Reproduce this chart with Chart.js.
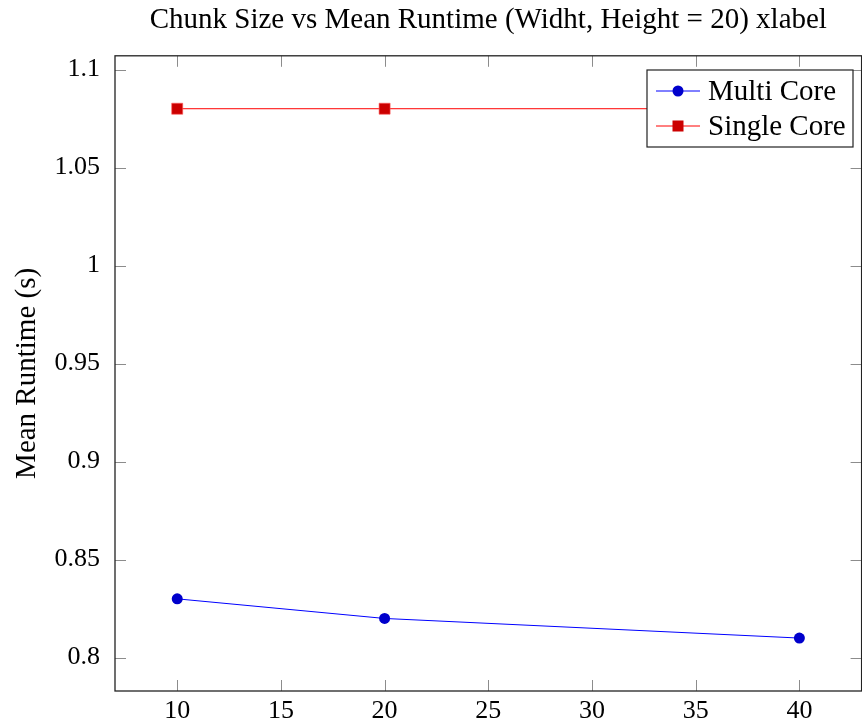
<!DOCTYPE html>
<html>
<head>
<meta charset="utf-8">
<script src="https://cdn.jsdelivr.net/npm/chart.js@4/dist/chart.umd.min.js"></script>
<style>
  body { margin: 0; background: #fff; }
  #wrap { width: 862px; height: 723px; overflow: hidden; }
</style>
</head>
<body>
<div id="wrap"><canvas id="chart" width="870" height="723"></canvas></div>
<script>
// data
var chunkSizes   = [10, 20, 40];
var multiCore    = [0.83, 0.82, 0.81];
var singleCore   = [1.08, 1.08, 1.08];
var xTickValues  = [10, 15, 20, 25, 30, 35, 40];
var yTickValues  = [0.8, 0.85, 0.9, 0.95, 1, 1.05, 1.1];

var FONT = "'Liberation Serif', 'Times New Roman', serif";

function points(xs, ys) {
  return xs.map(function (x, i) { return { x: x, y: ys[i] }; });
}

// pgfplots-like box with inward ticks on all four sides, and a boxed legend
var pgfFrame = {
  id: 'pgfFrame',
  afterDraw: function (chart) {
    var ctx = chart.ctx;
    var a = chart.chartArea;
    var xs = chart.scales.x, ys = chart.scales.y;
    var len = 11;
    ctx.save();
    ctx.strokeStyle = 'rgba(0,0,0,0.45)';
    ctx.lineWidth = 1;
    ctx.beginPath();
    xTickValues.forEach(function (v) {
      var px = Math.round(xs.getPixelForValue(v)) + 0.5;
      ctx.moveTo(px, a.bottom); ctx.lineTo(px, a.bottom - len);
      ctx.moveTo(px, a.top); ctx.lineTo(px, a.top + len);
    });
    yTickValues.forEach(function (v) {
      var py = Math.round(ys.getPixelForValue(v)) + 0.5;
      ctx.moveTo(a.left, py); ctx.lineTo(a.left + len, py);
      ctx.moveTo(a.right, py); ctx.lineTo(a.right - len, py);
    });
    ctx.stroke();

    ctx.strokeStyle = '#222';
    ctx.lineWidth = 1.3;
    ctx.strokeRect(a.left, a.top, a.right - a.left, a.bottom - a.top);

    // legend
    var bx = 647, by = 70, bw = 206, bh = 77;
    ctx.fillStyle = '#fff';
    ctx.fillRect(bx, by, bw, bh);
    ctx.strokeStyle = '#222';
    ctx.lineWidth = 1.2;
    ctx.strokeRect(bx, by, bw, bh);
    var rows = [91, 126];
    chart.data.datasets.forEach(function (ds, i) {
      var y = rows[i];
      ctx.strokeStyle = ds.borderColor;
      ctx.lineWidth = 1;
      ctx.beginPath();
      ctx.moveTo(656, y); ctx.lineTo(700, y);
      ctx.stroke();
      ctx.fillStyle = ds.pointBackgroundColor;
      if (ds.pointStyle === 'rect') {
        ctx.fillRect(678 - 5.5, y - 5.5, 11, 11);
      } else {
        ctx.beginPath();
        ctx.arc(678, y, 5.5, 0, Math.PI * 2);
        ctx.fill();
      }
      ctx.fillStyle = '#000';
      ctx.font = '29px ' + FONT;
      ctx.textBaseline = 'middle';
      ctx.textAlign = 'left';
      ctx.fillText(ds.label, 708, y + 1);
    });
    ctx.restore();
  }
};

new Chart(document.getElementById('chart'), {
  type: 'line',
  data: {
    datasets: [
      {
        label: 'Multi Core',
        data: points(chunkSizes, multiCore),
        borderColor: 'rgb(0,0,255)',
        backgroundColor: 'rgb(0,0,204)',
        pointBackgroundColor: 'rgb(0,0,204)',
        pointBorderColor: 'rgb(0,0,204)',
        pointStyle: 'circle',
        pointRadius: 5.5,
        pointBorderWidth: 0,
        borderWidth: 1,
        tension: 0
      },
      {
        label: 'Single Core',
        data: points(chunkSizes, singleCore),
        borderColor: 'rgb(255,0,0)',
        backgroundColor: 'rgb(204,0,0)',
        pointBackgroundColor: 'rgb(204,0,0)',
        pointBorderColor: 'rgb(255,90,90)',
        pointStyle: 'rect',
        pointRadius: 7.8,
        pointBorderWidth: 0.6,
        borderWidth: 1,
        tension: 0
      }
    ]
  },
  options: {
    responsive: false,
    animation: false,
    layout: { padding: { right: 1 } },
    plugins: {
      legend: { display: false },
      tooltip: { enabled: false },
      title: {
        display: true,
        fullSize: false,
        text: 'Chunk Size vs Mean Runtime (Widht, Height = 20) xlabel',
        color: '#000',
        font: { family: FONT, size: 29, weight: 'normal', lineHeight: 1.2 },
        padding: { top: 3, bottom: 18 }
      }
    },
    scales: {
      x: {
        type: 'linear',
        min: 7,
        max: 43,
        grid: { display: false, drawTicks: false },
        border: { display: false },
        afterBuildTicks: function (s) { s.ticks = xTickValues.map(function (v) { return { value: v }; }); },
        afterFit: function (s) { s.height = 32; },
        ticks: {
          color: '#000',
          padding: 5,
          maxRotation: 0,
          font: { family: FONT, size: 26 },
          callback: function (v) { return String(v); }
        }
      },
      y: {
        type: 'linear',
        min: 0.783,
        max: 1.107,
        grid: { display: false, drawTicks: false },
        border: { display: false },
        afterBuildTicks: function (s) { s.ticks = yTickValues.map(function (v) { return { value: v }; }); },
        afterFit: function (s) { s.width = 115; },
        title: {
          display: true,
          text: 'Mean Runtime (s)',
          color: '#000',
          font: { family: FONT, size: 29 },
          padding: { top: 10, bottom: 0 }
        },
        ticks: {
          color: '#000',
          padding: 15,
          font: { family: FONT, size: 26 },
          callback: function (v) { return String(v); }
        }
      }
    }
  },
  plugins: [pgfFrame]
});
</script>
</body>
</html>
